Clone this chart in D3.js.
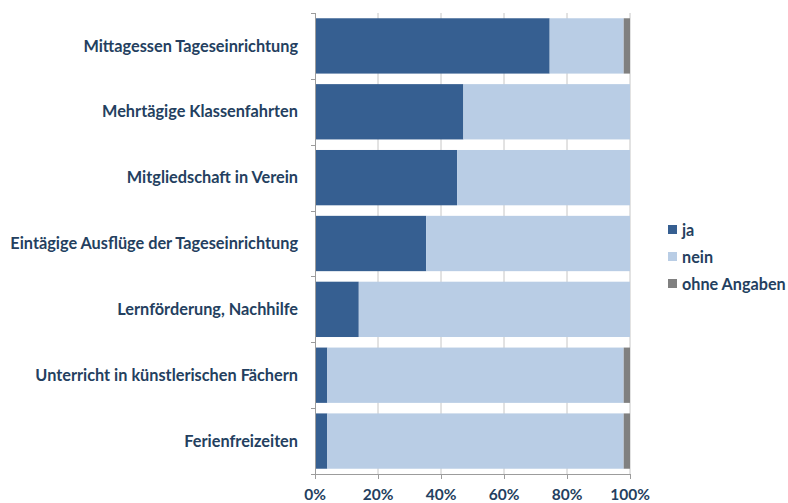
<!DOCTYPE html>
<html>
<head>
<meta charset="utf-8">
<script src="https://cdn.jsdelivr.net/npm/d3@7"></script>
<style>
  html, body { margin: 0; padding: 0; background: #fff; }
  svg { display: block; }
  text { font-family: Lato, "Open Sans", sans-serif; font-weight: bold; fill: #243f60; }
</style>
</head>
<body>
<svg id="chart" width="788" height="503"></svg>
<script>
// Categories (top to bottom) and shares in percent per answer
const categories = [
  "Mittagessen Tageseinrichtung",
  "Mehrtägige Klassenfahrten",
  "Mitgliedschaft in Verein",
  "Eintägige Ausflüge der Tageseinrichtung",
  "Lernförderung, Nachhilfe",
  "Unterricht in künstlerischen Fächern",
  "Ferienfreizeiten"
];
const ja    = [74.5, 47.1, 45.1, 35.3, 13.9, 3.9, 3.9];
const nein  = [23.5, 52.9, 54.9, 64.7, 86.1, 94.1, 94.1];
const ohne  = [2.0, 0, 0, 0, 0, 2.0, 2.0];
const seriesNames = ["ja", "nein", "ohne Angaben"];
const seriesColors = ["#365f91", "#b9cde5", "#808080"];
const tickValues = [0, 20, 40, 60, 80, 100];

const svg = d3.select("#chart");
const margin = { left: 315, right: 158, top: 13, bottom: 29 };
const W = 788, H = 503;

const x = d3.scaleLinear().domain([0, 100]).range([margin.left, W - margin.right]);
const y = d3.scaleBand().domain(categories).range([margin.top, H - margin.bottom]).paddingInner(0.16).paddingOuter(0.08);

// vertical gridlines
svg.append("g").selectAll("line").data(tickValues.slice(1)).join("line")
  .attr("x1", d => x(d)).attr("x2", d => x(d))
  .attr("y1", margin.top).attr("y2", H - margin.bottom)
  .attr("stroke", "#c6c6c6").attr("stroke-width", 1);

// stacked bars
const rows = categories.map((c, i) => ({ cat: c, vals: [ja[i], nein[i], ohne[i]] }));
const stack = d3.stack().keys([0, 1, 2]).value((d, k) => d.vals[k]);
const layers = stack(rows);

svg.append("g").selectAll("g").data(layers).join("g")
  .attr("fill", (d, i) => seriesColors[i])
  .selectAll("rect").data(d => d.filter(s => s[1] > s[0])).join("rect")
  .attr("x", d => x(d[0]))
  .attr("width", d => x(d[1]) - x(d[0]))
  .attr("y", d => y(d.data.cat))
  .attr("height", y.bandwidth());

// left axis with category-boundary ticks
const axisX = x(0);
const g = svg.append("g");
g.append("line").attr("x1", axisX + 0.5).attr("x2", axisX + 0.5)
  .attr("y1", margin.top).attr("y2", H - margin.bottom)
  .attr("stroke", "#9c9c9c");
const bounds = d3.range(categories.length + 1).map(i => margin.top + i * (H - margin.top - margin.bottom) / categories.length);
g.selectAll("line.tk").data(bounds).join("line").attr("class", "tk")
  .attr("x1", axisX - 4).attr("x2", axisX)
  .attr("y1", d => Math.round(d) + 0.5).attr("y2", d => Math.round(d) + 0.5)
  .attr("stroke", "#9c9c9c");

// category labels
svg.append("g").selectAll("text").data(categories).join("text")
  .attr("x", 298)
  .attr("y", d => y(d) + y.bandwidth() / 2)
  .attr("dy", "0.35em")
  .attr("text-anchor", "end")
  .attr("font-size", 16.3)
  .text(d => d);

// bottom axis
const by = H - margin.bottom;
svg.append("line").attr("x1", x(0)).attr("x2", x(100))
  .attr("y1", by + 0.5).attr("y2", by + 0.5).attr("stroke", "#9c9c9c");
svg.append("g").selectAll("line").data(tickValues).join("line")
  .attr("x1", d => Math.round(x(d)) + 0.5).attr("x2", d => Math.round(x(d)) + 0.5)
  .attr("y1", by).attr("y2", by + 5).attr("stroke", "#9c9c9c");
svg.append("g").selectAll("text").data(tickValues).join("text")
  .attr("x", d => x(d)).attr("y", 500)
  .attr("text-anchor", "middle")
  .attr("font-size", 15.5)
  .text(d => d + "%");

// legend
const lg = svg.append("g").selectAll("g").data(seriesNames).join("g")
  .attr("transform", (d, i) => `translate(668, ${230 + i * 27})`);
lg.append("rect").attr("x", 0).attr("y", -5).attr("width", 9).attr("height", 9)
  .attr("fill", (d, i) => seriesColors[i]);
lg.append("text").attr("x", 14).attr("y", 0).attr("dy", "0.35em")
  .attr("font-size", 16.2).text(d => d);
</script>
</body>
</html>
